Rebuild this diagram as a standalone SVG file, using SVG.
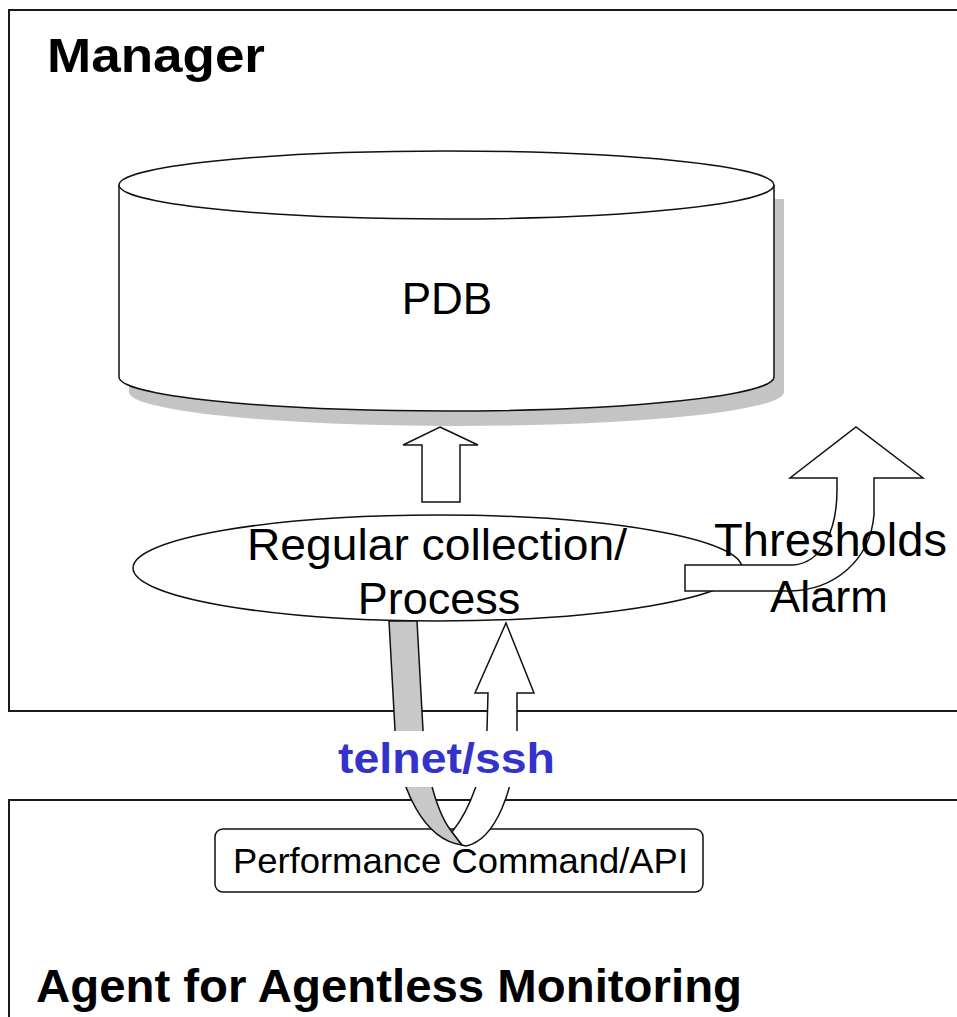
<svg xmlns="http://www.w3.org/2000/svg" width="957" height="1017" viewBox="0 0 957 1017">
<style>
.frame{fill:#fff;stroke:#1a1a1a;stroke-width:2}
.ol{fill:#fff;stroke:#111;stroke-width:1.5;stroke-linejoin:miter}
.t{font-family:"Liberation Sans",Arial,sans-serif;fill:#000}
.b{font-weight:bold}
</style>
<rect width="957" height="1017" fill="#fff"/>
<g id="manager">
<rect class="frame" x="9" y="10" width="960" height="701"/>
<text class="t b" x="47" y="72" font-size="48" textLength="218" lengthAdjust="spacingAndGlyphs">Manager</text>
</g>
<g id="agent">
<rect class="frame" x="9" y="800" width="960" height="300"/>
<text class="t b" x="36" y="1002" font-size="47" textLength="706" lengthAdjust="spacingAndGlyphs">Agent for Agentless Monitoring</text>
</g>
<g id="pdb">
<path d="M129,199 L129,392 A327.5,34 0 0 0 784,392 L784,199 Z" fill="#c4c4c4"/>
<path class="ol" d="M119,185 L119,377 A327.5,34 0 0 0 774,377 L774,185"/>
<ellipse class="ol" cx="446.5" cy="185" rx="327.5" ry="34"/>
<text class="t" x="447" y="314" font-size="44" text-anchor="middle">PDB</text>
</g>
<g id="process">
<ellipse class="ol" cx="437.5" cy="568" rx="304.5" ry="53"/>
</g>
<g id="perf">
<rect class="ol" x="215" y="829" width="488" height="63" rx="8"/>
</g>
<g id="connectors">
<path class="ol" d="M440,427 L478,445 L460,445 L460,502 L422,502 L422,445 L403,445 Z"/>
<path class="ol" d="M685,565 L793,565 C822,563 837,530 837,490 L837,478 L790,478 L856,427 L923,478 L874,478 L874,515 C870,560 835,590 790,591 L685,591 Z"/>
<path d="M389,621 L417,621 L423,730 C426,775 438,815 452,832 L462,845 C425,840 398,790 395,730 Z" fill="#c8c8c8" stroke="#111" stroke-width="1.5"/>
<path class="ol" d="M506,623 L534,693 L517,693 L517,730 C516,790 495,840 466,846 L462,845 L452,832 C470,810 485,770 487,730 L488,693 L475,693 Z"/>
<rect x="330" y="731" width="235" height="56" fill="#fff"/>
</g>
<g id="labels">
<text class="t" x="437" y="560" font-size="45" text-anchor="middle" textLength="380" lengthAdjust="spacingAndGlyphs">Regular collection/</text>
<text class="t" x="439" y="614" font-size="45" text-anchor="middle">Process</text>
<text class="t" x="714" y="556" font-size="46" textLength="233" lengthAdjust="spacingAndGlyphs">Thresholds</text>
<text class="t" x="770" y="612" font-size="45" textLength="118" lengthAdjust="spacingAndGlyphs">Alarm</text>
<text class="t b" x="338" y="773" font-size="43" style="fill:#3333cc" textLength="217" lengthAdjust="spacingAndGlyphs">telnet/ssh</text>
<text class="t" x="233" y="873" font-size="35" textLength="455" lengthAdjust="spacingAndGlyphs">Performance Command/API</text>
</g>
</svg>
